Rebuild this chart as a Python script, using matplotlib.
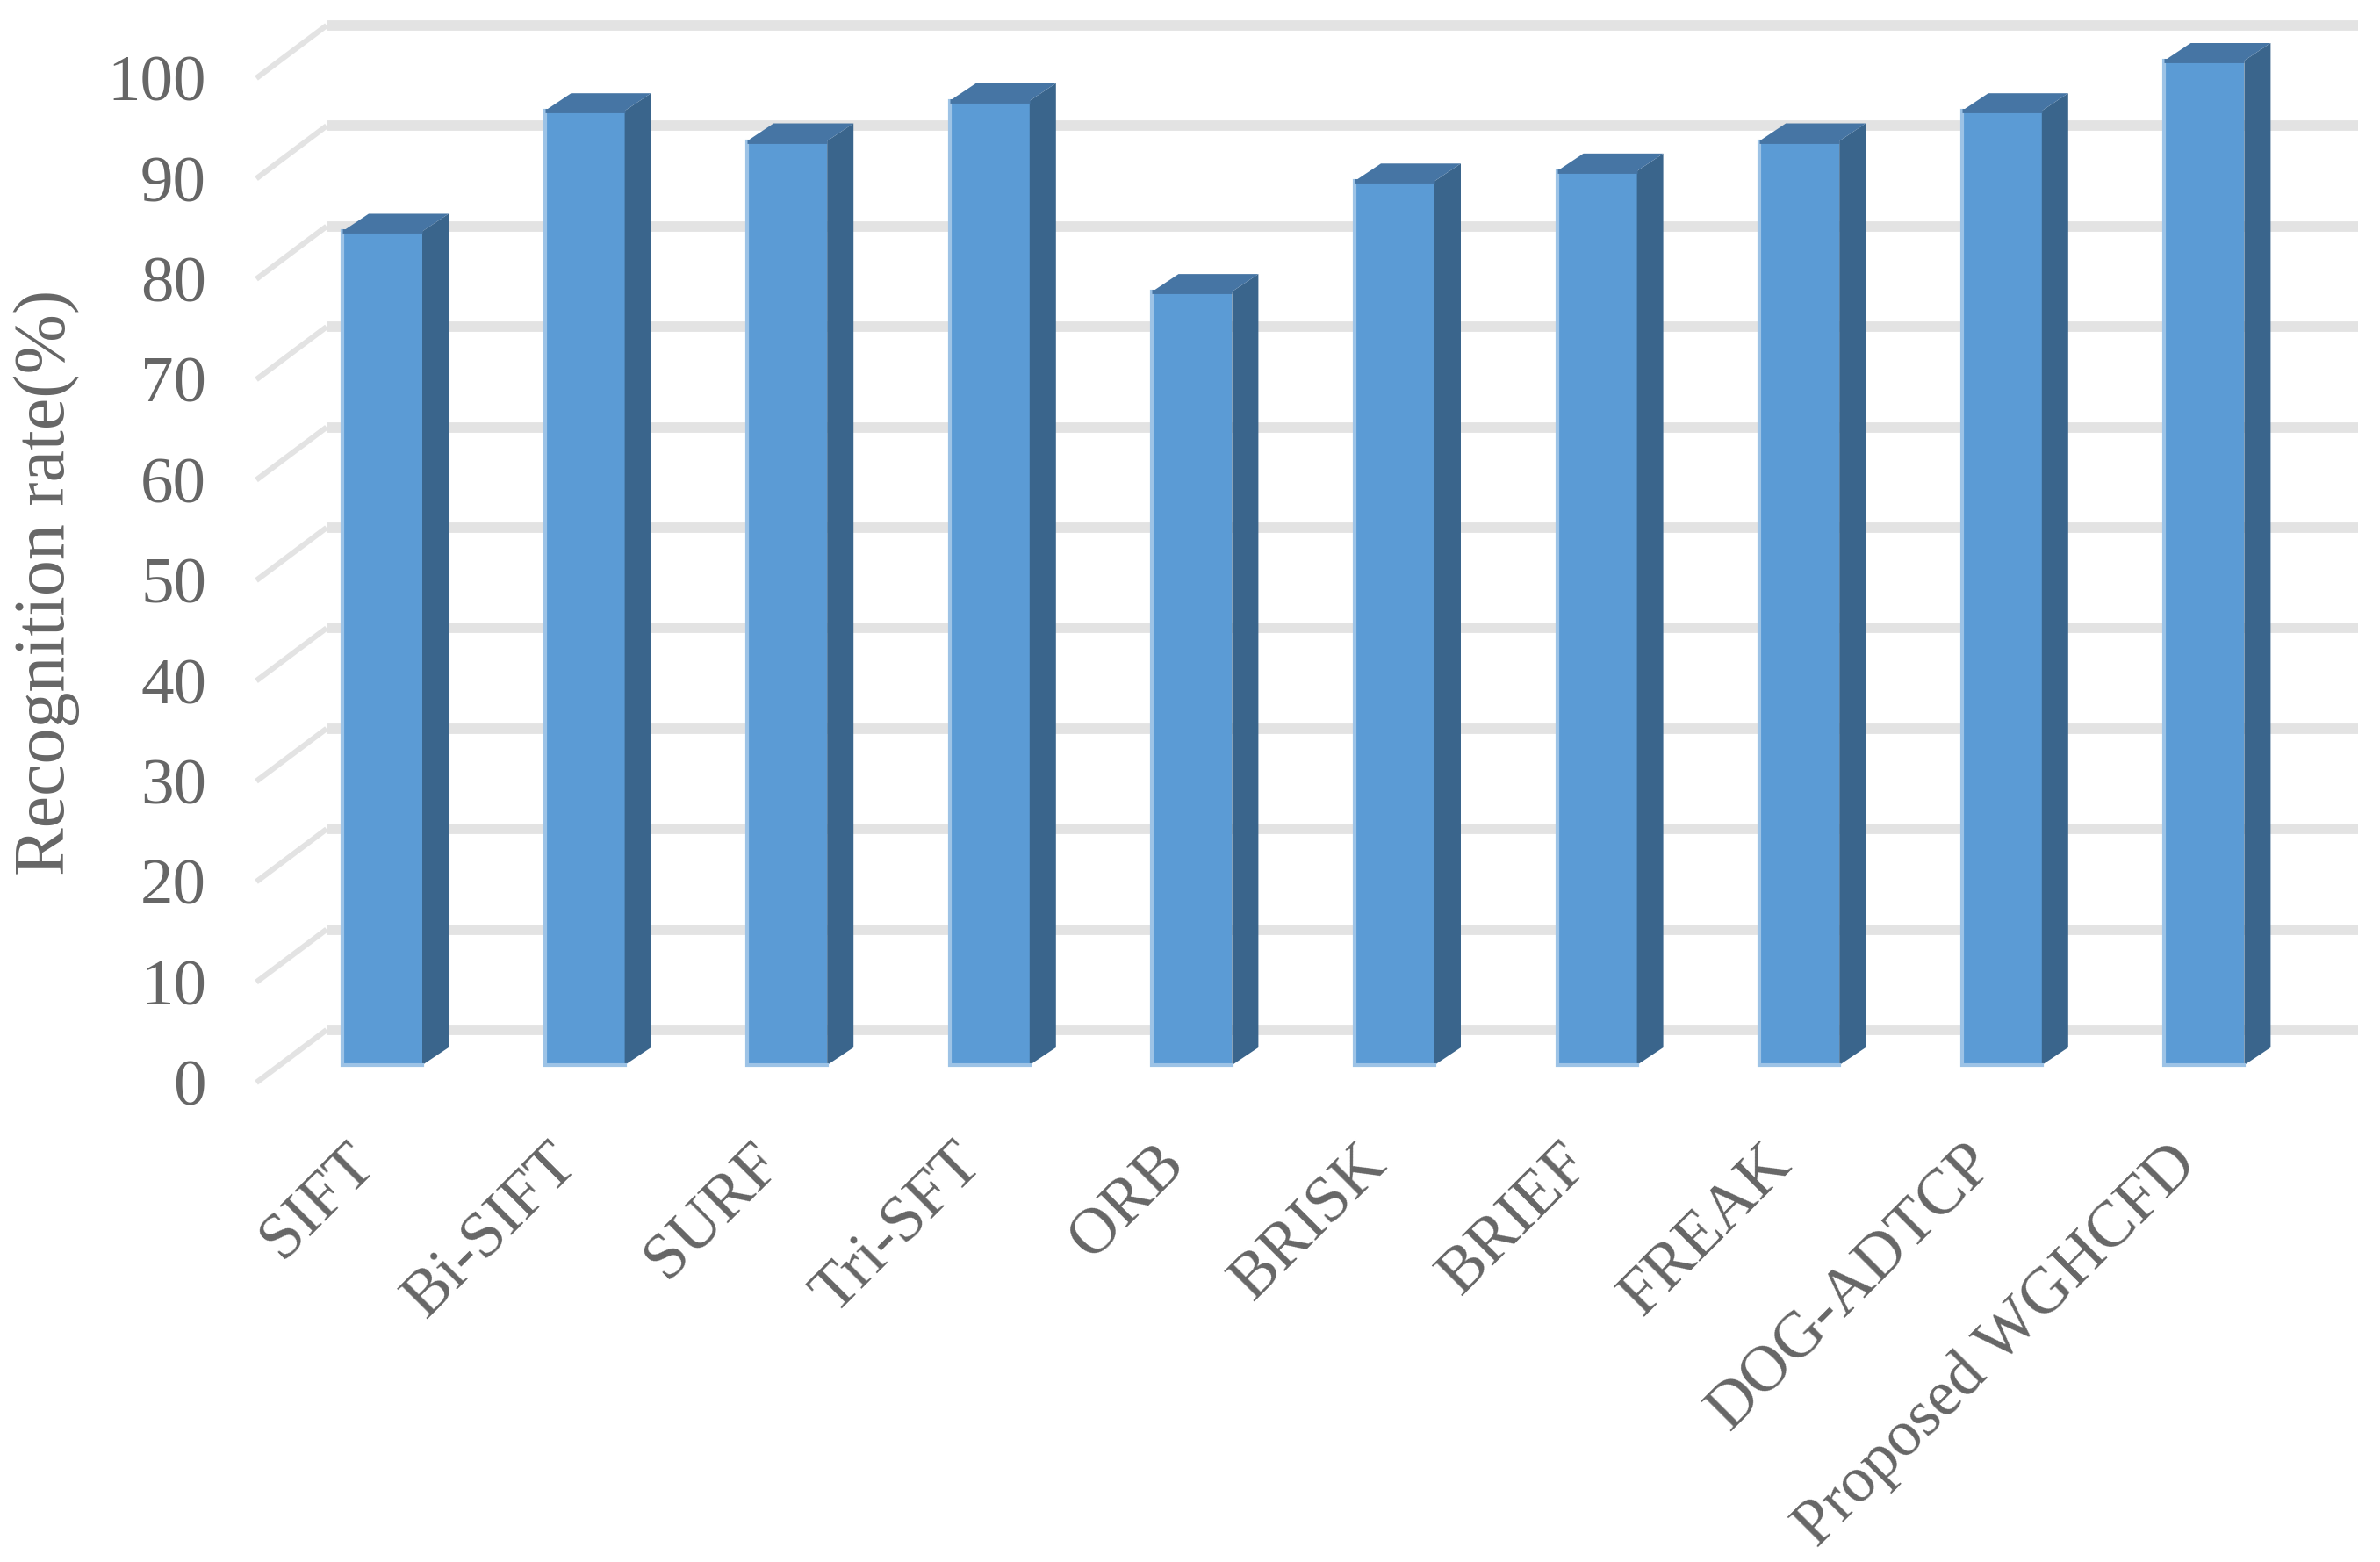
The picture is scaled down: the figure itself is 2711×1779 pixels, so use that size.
import matplotlib
matplotlib.use('Agg')
import matplotlib.pyplot as plt
import numpy as np

# Values
methods = ['SIFT', 'Bi-SIFT', 'SURF', 'Tri-SFT', 'ORB', 'BRISK', 'BRIEF', 'FREAK',
           'DOG-ADTCP', 'Proposed WGHCFD']
recognition = [83, 95, 92, 96, 77, 88, 89, 92, 95, 100]
y_ticks = [0, 10, 20, 30, 40, 50, 60, 70, 80, 90, 100]

W, H = 2711, 1779
plt.rcParams['font.family'] = ['Liberation Serif', 'DejaVu Serif']

fig = plt.figure(figsize=(W / 100, H / 100), dpi=100)
# axes box in pixels: front wall corner to the end of the back wall
left, right, bottom, top = 292, 2686, 1233, 29
ax = fig.add_axes([left / W, 1 - bottom / H, (right - left) / W, (bottom - top) / H])

step = 230.6  # px per category
unit = 11.44  # px per percent
x0 = (435.5 - left) / step
ax.set_xlim(-x0, (right - left) / step - x0)
ax.set_ylim(0, (bottom - top) / unit)

# depth of the fake 3D box, in data units
bar_w = 91 / step
dx = 30 / step
dy = 20 / unit
wall_dx = 80 / step
wall_dy = 60 / unit
lift = dy

xs = np.arange(len(methods))
x_min = ax.get_xlim()[0]
x_max = ax.get_xlim()[1]

# walls
for v in y_ticks:
    ax.plot([x_min, x_min + wall_dx], [v, v + wall_dy], color='#E3E3E3', lw=4.5,
            solid_capstyle='butt', zorder=1, clip_on=False)
    ax.plot([x_min + wall_dx, x_max], [v + wall_dy, v + wall_dy], color='#E3E3E3', lw=8.5,
            solid_capstyle='butt', zorder=1, clip_on=False)

# bars
for x, v in zip(xs, recognition):
    l = x - bar_w / 2
    r = x + bar_w / 2
    y_top = v + lift
    ax.bar(x, v, bar_w, bottom=lift, color='#5B9BD5', linewidth=0, zorder=3)
    ax.fill([r, r + dx, r + dx, r], [lift, lift + dy, y_top + dy, y_top],
            color='#3A658C', lw=0, zorder=3, clip_on=False)
    ax.fill([l, l + dx, r + dx, r], [y_top, y_top + dy, y_top + dy, y_top],
            color='#4675A4', lw=0, zorder=3, clip_on=False)
    ax.plot([l, l, r], [y_top, lift, lift], color='#9DC3E6', lw=3, zorder=4,
            solid_joinstyle='miter')
    # darker rim along the top of the front face
    ax.plot([l, r], [y_top, y_top], color='#4675A4', lw=3.5, zorder=5,
            solid_capstyle='butt')

for s in ax.spines.values():
    s.set_visible(False)
ax.patch.set_visible(False)

ax.set_yticks(y_ticks)
ax.set_yticklabels([str(t) for t in y_ticks], fontsize=54, color='#666666')
ax.set_xticks(xs - 0.185)
ax.set_xticklabels(methods, fontsize=53.5, color='#666666', rotation=45, ha='right',
                   va='top', rotation_mode='anchor')
ax.tick_params(axis='both', length=0)
ax.tick_params(axis='y', pad=41)
ax.tick_params(axis='x', pad=42)

ax.set_ylabel('Recognition rate(%)', fontsize=59, color='#666666')
ax.yaxis.set_label_coords((91 - left) / (right - left), (bottom - 663) / (bottom - top))

fig.savefig('out.png', dpi=100, facecolor='white')
